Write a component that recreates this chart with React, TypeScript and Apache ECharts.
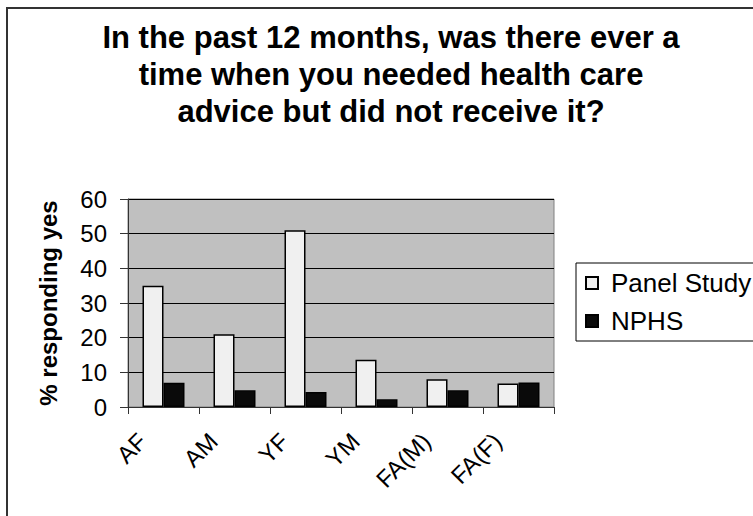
import React, { useEffect, useRef } from "react";
import * as echarts from "echarts";

const categories = ["AF", "AM", "YF", "YM", "FA(M)", "FA(F)"];
const panelStudy = [35, 21, 51, 13.6, 8, 6.8];
const nphs = [7, 4.8, 4.3, 2.2, 4.8, 7.1];
const titleText =
  "In the past 12 months, was there ever a\ntime when you needed health care\nadvice but did not receive it?";
const yAxisTitle = "% responding yes";

const FONT = "'Liberation Sans', Arial, Helvetica, sans-serif";

export default function App() {
  const ref = useRef<HTMLDivElement>(null);
  useEffect(() => {
    if (!ref.current) return;
    const chart = echarts.init(ref.current, undefined, { renderer: "svg" });
    chart.setOption({
      animation: false,
      backgroundColor: "#ffffff",
      textStyle: { fontFamily: FONT },
      title: {
        text: titleText,
        left: 391,
        top: 19,
        padding: 0,
        textAlign: "center",
        textStyle: {
          fontFamily: FONT,
          fontSize: 31,
          fontWeight: "bold",
          color: "#000",
          lineHeight: 37,
        },
      },
      legend: {
        orient: "vertical",
        left: 576,
        top: 263,
        padding: [6, 40, 6, 9],
        itemWidth: 12,
        itemHeight: 12,
        itemGap: 10,
        icon: "rect",
        borderColor: "#000",
        borderWidth: 1,
        backgroundColor: "#fff",
        textStyle: {
          fontFamily: FONT,
          fontSize: 26,
          color: "#000",
          lineHeight: 28,
          padding: [0, 0, 0, 8],
        },
        data: ["Panel Study", "NPHS"],
      },
      graphic: [
        {
          type: "rect",
          shape: { x: 7, y: 8, width: 900, height: 900 },
          style: { fill: "none", stroke: "#333", lineWidth: 2 },
          silent: true,
        },
      ],
      grid: {
        left: 128,
        top: 199,
        width: 426,
        height: 208,
        show: true,
        backgroundColor: "#C0C0C0",
        borderColor: "#808080",
        borderWidth: 1,
      },
      xAxis: {
        type: "category",
        data: categories,
        axisLine: { lineStyle: { color: "#333", width: 1 } },
        axisTick: {
          show: true,
          length: 7,
          alignWithLabel: false,
          lineStyle: { color: "#333" },
        },
        axisLabel: {
          rotate: 45,
          margin: 9,
          fontFamily: FONT,
          fontSize: 24,
          color: "#000",
          padding: [0, 30, 0, 0],
          interval: 0,
        },
        splitLine: { show: false },
      },
      yAxis: {
        type: "value",
        min: 0,
        max: 60,
        interval: 10,
        name: yAxisTitle,
        nameLocation: "middle",
        nameGap: 68,
        nameTextStyle: {
          fontFamily: FONT,
          fontSize: 24,
          fontWeight: "bold",
          color: "#000",
        },
        axisLine: { show: true, lineStyle: { color: "#333", width: 1 } },
        axisTick: { show: true, length: 8, lineStyle: { color: "#333" } },
        axisLabel: {
          margin: 21,
          fontFamily: FONT,
          fontSize: 24,
          color: "#000",
        },
        splitLine: { show: true, lineStyle: { color: "#000", width: 1 } },
      },
      series: [
        {
          name: "Panel Study",
          type: "bar",
          data: panelStudy,
          barWidth: 21,
          barGap: "0%",
          itemStyle: { color: "#F0F0F0", borderColor: "#000", borderWidth: 1.5 },
        },
        {
          name: "NPHS",
          type: "bar",
          data: nphs,
          barWidth: 21,
          barGap: "0%",
          itemStyle: { color: "#0A0A0A", borderColor: "#000", borderWidth: 1.5 },
        },
      ],
    });
    return () => chart.dispose();
  }, []);
  return (
    <div
      ref={ref}
      style={{ position: "fixed", left: 0, top: 0, width: 753, height: 516 }}
    />
  );
}
